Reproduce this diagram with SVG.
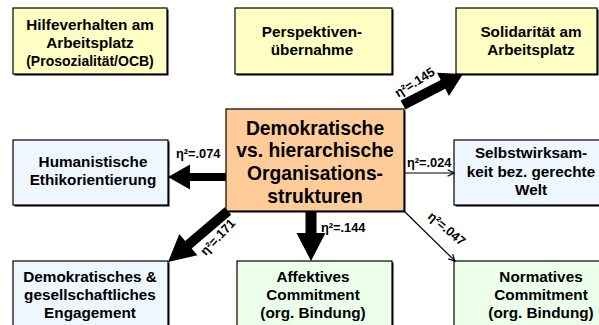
<svg xmlns="http://www.w3.org/2000/svg" width="599" height="325" viewBox="0 0 599 325">
<style>
.box{stroke:#000;stroke-width:1.2}
.sh{fill:#000}
.y{fill:#FFFFC4}
.b{fill:#EEF6FF}
.g{fill:#EBFFEB}
.c{fill:#FFCC99}
text{font-family:"Liberation Sans",Arial,sans-serif;font-weight:bold;fill:#000}
.t{font-size:15.3px;text-anchor:middle}
.ts{font-size:14px;text-anchor:middle}
.tc{font-size:19.3px;text-anchor:middle}
.lab{font-size:12.8px}
.thick{fill:#000}
.thin{stroke:#000;stroke-width:1.2;fill:none}
</style>
<defs>
<marker id="chev" viewBox="0 0 10 10" refX="9" refY="5" markerWidth="8" markerHeight="8" markerUnits="userSpaceOnUse" orient="auto">
<path d="M1,1 L9,5 L1,9" fill="none" stroke="#000" stroke-width="1.5"/>
</marker>
</defs>
<rect width="599" height="325" fill="#fff"/>

<g id="hilfeverhalten">
<rect class="sh" x="14.5" y="9.5" width="154" height="66"/>
<rect class="box y" x="13" y="8" width="154" height="66"/>
<text class="t" x="90" y="30">Hilfeverhalten am</text>
<text class="t" x="90" y="48">Arbeitsplatz</text>
<text class="ts" x="90" y="66">(Prosozialität/OCB)</text>
</g>

<g id="perspektiven">
<rect class="sh" x="236.5" y="9.5" width="157" height="66"/>
<rect class="box y" x="235" y="8" width="157" height="66"/>
<text class="t" x="312" y="37">Perspektiven-</text>
<text class="t" x="312" y="55">übernahme</text>
</g>

<g id="solidaritaet">
<rect class="sh" x="457.5" y="9.5" width="141" height="66"/>
<rect class="box y" x="456" y="8" width="141" height="66"/>
<text class="t" x="531" y="37">Solidarität am</text>
<text class="t" x="531" y="55">Arbeitsplatz</text>
</g>

<g id="humanistische">
<rect class="sh" x="14.5" y="141.5" width="155" height="65"/>
<rect class="box b" x="13" y="140" width="155" height="65"/>
<text class="t" x="93" y="167">Humanistische</text>
<text class="t" x="93" y="185">Ethikorientierung</text>
</g>

<g id="zentrum">
<rect class="sh" x="227.5" y="110.5" width="178" height="102"/>
<rect class="box c" x="226" y="109" width="178" height="102"/>
<text class="tc" x="315" y="135">Demokratische</text>
<text class="tc" x="315" y="157">vs. hierarchische</text>
<text class="tc" x="315" y="180">Organisations-</text>
<text class="tc" x="315" y="203">strukturen</text>
</g>

<g id="selbstwirksamkeit">
<rect class="sh" x="455.5" y="141.5" width="150" height="65"/>
<rect class="box b" x="454" y="140" width="150" height="65"/>
<text class="t" x="531" y="158">Selbstwirksam-</text>
<text class="t" x="531" y="177">keit bez. gerechte</text>
<text class="t" x="531" y="195">Welt</text>
</g>

<g id="engagement">
<rect class="sh" x="14.5" y="262.5" width="155" height="70"/>
<rect class="box b" x="13" y="261" width="155" height="70"/>
<text class="t" x="90" y="282">Demokratisches &amp;</text>
<text class="t" x="90" y="300">gesellschaftliches</text>
<text class="t" x="90" y="318">Engagement</text>
</g>

<g id="affektives">
<rect class="sh" x="238.5" y="262.5" width="155" height="70"/>
<rect class="box g" x="237" y="261" width="155" height="70"/>
<text class="t" x="313" y="282">Affektives</text>
<text class="t" x="313" y="300">Commitment</text>
<text class="t" x="313" y="318">(org. Bindung)</text>
</g>

<g id="normatives">
<rect class="sh" x="455.5" y="262.5" width="150" height="70"/>
<rect class="box g" x="454" y="261" width="150" height="70"/>
<text class="t" x="541" y="282">Normatives</text>
<text class="t" x="541" y="300">Commitment</text>
<text class="t" x="541" y="318">(org. Bindung)</text>
</g>

<g id="connectors">
<!-- to Solidaritaet -->
<path class="thick" transform="translate(403,105) rotate(-27.3)" d="M0,-5 L45,-5 L45,-13 L67.5,0 L45,13 L45,5 L0,5 Z"/>
<text class="lab" transform="translate(417,86) rotate(-32)" text-anchor="middle">η²=.145</text>
<!-- to Humanistische -->
<path class="thick" transform="translate(226,177) rotate(180)" d="M0,-4 L36,-4 L36,-12.5 L58,0 L36,12.5 L36,4 L0,4 Z"/>
<text class="lab" x="176" y="158">η²=.074</text>
<!-- to Selbstwirksamkeit -->
<line class="thin" x1="404" y1="173" x2="454" y2="173" marker-end="url(#chev)"/>
<text class="lab" x="407" y="167">η²=.024</text>
<!-- to Engagement -->
<path class="thick" transform="translate(228,211) rotate(139.6)" d="M0,-5 L52,-5 L52,-14 L78.7,0 L52,14 L52,5 L0,5 Z"/>
<text class="lab" transform="translate(221,240) rotate(-47)" text-anchor="middle">η²=.171</text>
<!-- to Affektives -->
<path class="thick" transform="translate(311,211) rotate(90)" d="M0,-5.5 L22,-5.5 L22,-14.5 L50,0 L22,14.5 L22,5.5 L0,5.5 Z"/>
<text class="lab" x="321" y="232">η²=.144</text>
<!-- to Normatives -->
<line class="thin" x1="404" y1="211" x2="455" y2="261" marker-end="url(#chev)"/>
<text class="lab" transform="translate(444,232) rotate(40)" text-anchor="middle">η²=.047</text>
</g>
</svg>
